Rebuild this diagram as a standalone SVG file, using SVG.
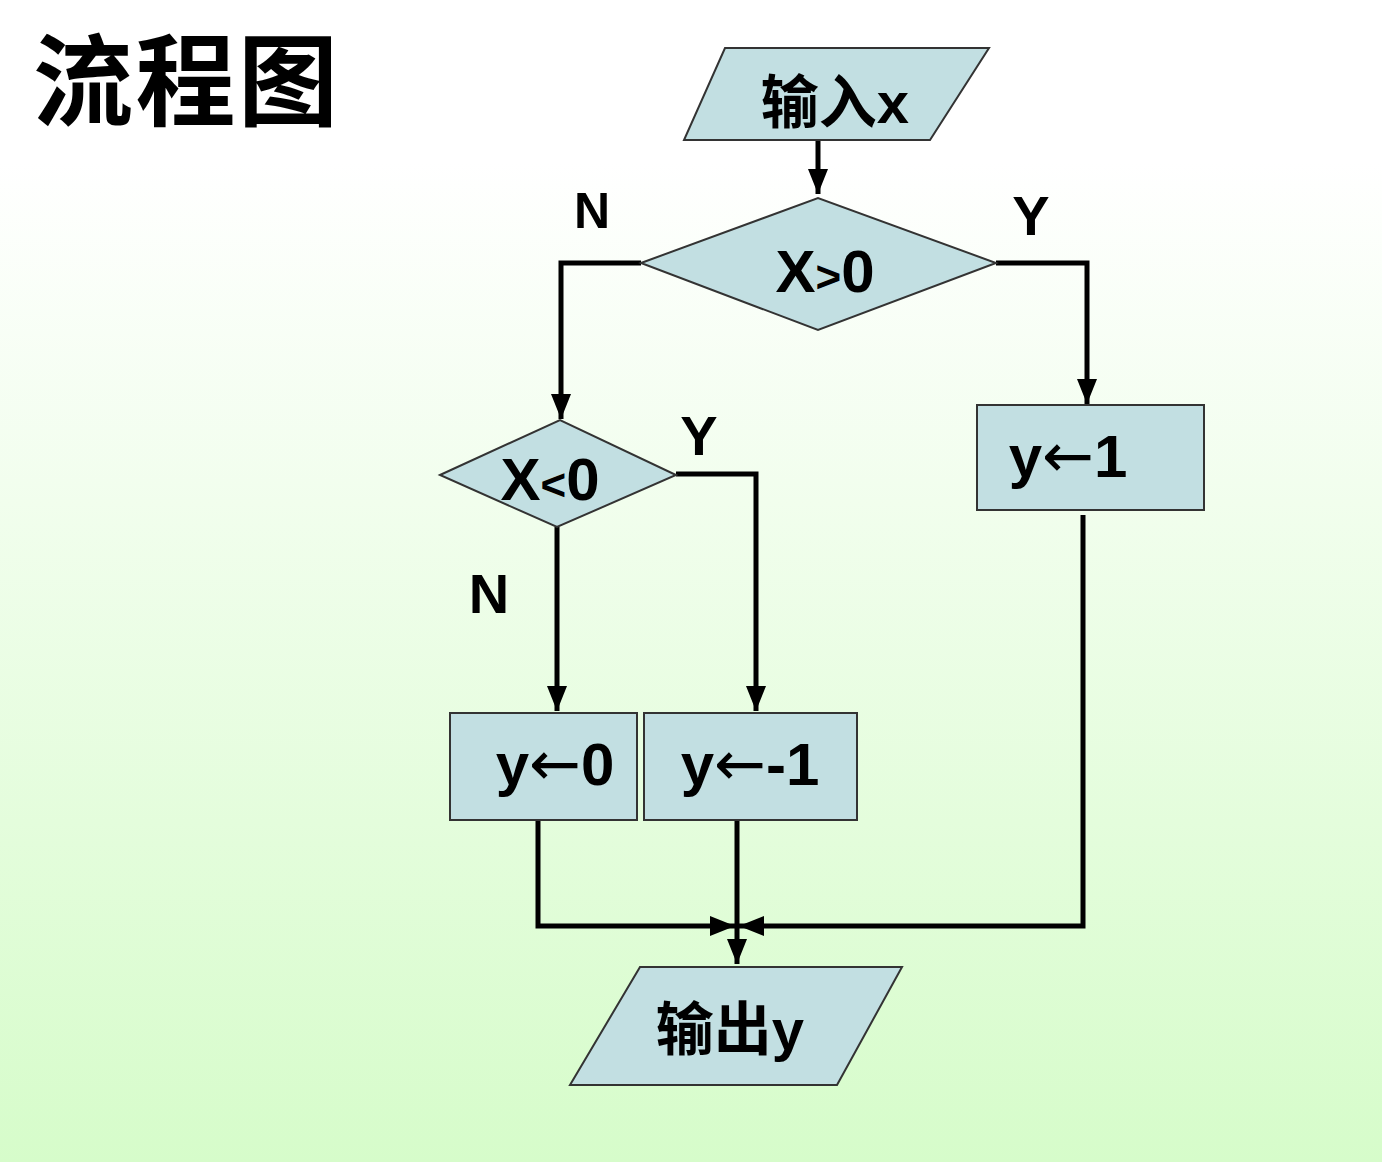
<svg xmlns="http://www.w3.org/2000/svg" width="1382" height="1162" viewBox="0 0 1382 1162">
<defs>
<linearGradient id="bg" x1="0" y1="0" x2="0" y2="1">
<stop offset="0" stop-color="#ffffff"/><stop offset="0.14" stop-color="#ffffff"/><stop offset="1" stop-color="#d6fcca"/>
</linearGradient>
<marker id="ah" viewBox="0 0 10 10" refX="10" refY="5" markerWidth="5" markerHeight="5" orient="auto" markerUnits="strokeWidth"><path d="M0,1 L10,5 L0,9 z" fill="#000"/></marker>
<style>
.s{fill:#c2dfe2;stroke:#333;stroke-width:2}
.c{fill:none;stroke:#000;stroke-width:5}
.t{font-family:"Liberation Sans","Noto Sans CJK SC",sans-serif;font-weight:bold;fill:#000}
.a{font-family:"DejaVu Sans",sans-serif;font-weight:normal;font-size:62px}
</style>
</defs>
<rect width="1382" height="1162" fill="url(#bg)"/>
<text x="33" y="118" class="t" font-size="100" textLength="305" style="font-family:'Noto Sans CJK SC',sans-serif;font-weight:700">流程图</text>
<g id="connectors">
<path class="c" d="M818,140 V194" marker-end="url(#ah)"/>
<path class="c" d="M641,263 H561 V419" marker-end="url(#ah)"/>
<path class="c" d="M996,263 H1087 V404" marker-end="url(#ah)"/>
<path class="c" d="M676,474 H756 V711" marker-end="url(#ah)"/>
<path class="c" d="M557,527 V711" marker-end="url(#ah)"/>
<path class="c" d="M538,820 V926 H735" marker-end="url(#ah)"/>
<path class="c" d="M737,820 V964" marker-end="url(#ah)"/>
<path class="c" d="M1083,515 V926 H739" marker-end="url(#ah)"/>
</g>
<g id="in"><polygon class="s" points="725,48 989,48 930,140 684,140"/><text x="835" y="123" class="t" font-size="58" text-anchor="middle">输入x</text></g>
<g id="d1"><polygon class="s" points="641,263 818,198 996,263 818,330"/><text x="825" y="292" class="t" font-size="60" text-anchor="middle">X<tspan font-size="44">&gt;</tspan>0</text></g>
<g id="d2"><polygon class="s" points="440,475 560,420 676,475 557,527"/><text x="550" y="500" class="t" font-size="60" text-anchor="middle">X<tspan font-size="44">&lt;</tspan>0</text></g>
<g id="b1"><rect class="s" x="977" y="405" width="227" height="105"/><text x="1068" y="477" class="t" font-size="60" text-anchor="middle">y<tspan class="a">←</tspan>1</text></g>
<g id="b0"><rect class="s" x="450" y="713" width="187" height="107"/><text x="555" y="785" class="t" font-size="60" text-anchor="middle">y<tspan class="a">←</tspan>0</text></g>
<g id="bm1"><rect class="s" x="644" y="713" width="213" height="107"/><text x="750" y="785" class="t" font-size="60" text-anchor="middle">y<tspan class="a">←</tspan>-1</text></g>
<g id="out"><polygon class="s" points="640,967 902,967 837,1085 570,1085"/><text x="730" y="1050" class="t" font-size="58" text-anchor="middle">输出y</text></g>
<g id="labels">
<text x="592" y="228" class="t" font-size="50" text-anchor="middle">N</text>
<text x="1031" y="235" class="t" font-size="56" text-anchor="middle">Y</text>
<text x="699" y="455" class="t" font-size="56" text-anchor="middle">Y</text>
<text x="489" y="613" class="t" font-size="56" text-anchor="middle">N</text>
</g>
</svg>
